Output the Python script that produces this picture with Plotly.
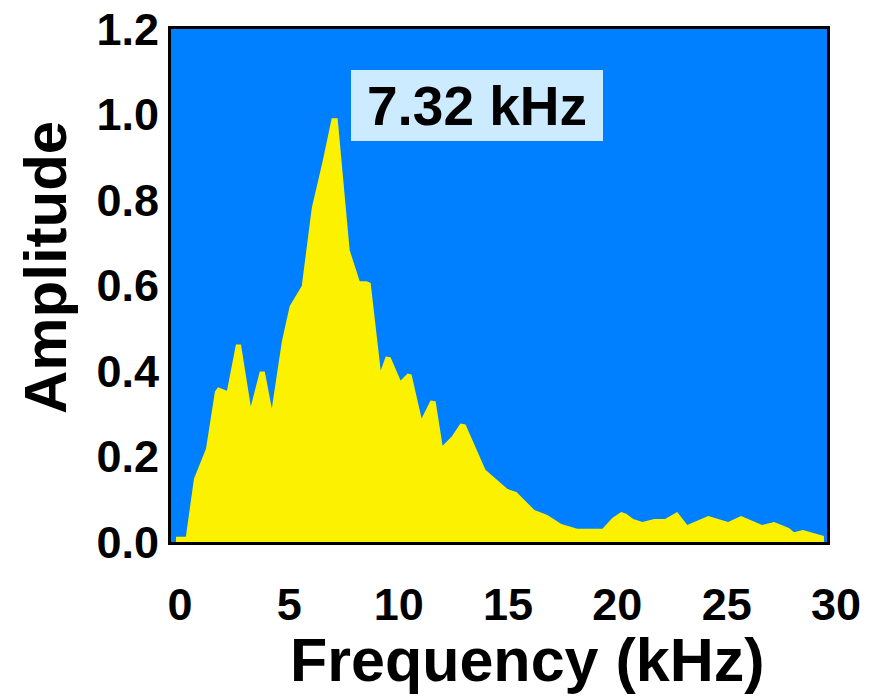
import plotly.graph_objects as go

freq_khz = [0.23, 0.68, 1.05, 1.60, 2.01, 2.15, 2.56, 2.97, 3.20, 3.65, 4.06, 4.29, 4.61, 5.07,
            5.43, 5.98, 6.44, 6.94, 7.35, 7.62, 8.17, 8.63, 8.95, 9.13, 9.59, 9.82, 10.04, 10.50,
            10.82, 11.00, 11.46, 11.87, 12.10, 12.42, 12.83, 13.24, 13.47, 14.38, 15.39, 15.80,
            16.62, 17.21, 17.85, 18.58, 19.73, 20.18, 20.59, 20.82, 21.14, 21.55, 22.10, 22.60,
            23.15, 23.61, 24.57, 25.48, 26.07, 27.03, 27.58, 28.26, 28.49, 28.90, 29.86]
amplitude = [0.012, 0.012, 0.148, 0.218, 0.352, 0.362, 0.354, 0.462, 0.462, 0.317, 0.399, 0.399,
             0.312, 0.469, 0.552, 0.599, 0.782, 0.892, 0.991, 0.991, 0.683, 0.610, 0.610, 0.606,
             0.401, 0.434, 0.432, 0.378, 0.394, 0.392, 0.289, 0.331, 0.329, 0.225, 0.246, 0.277,
             0.275, 0.169, 0.124, 0.117, 0.075, 0.063, 0.042, 0.031, 0.031, 0.056, 0.070, 0.066,
             0.054, 0.047, 0.054, 0.054, 0.070, 0.040, 0.061, 0.047, 0.061, 0.040, 0.047, 0.033,
             0.023, 0.028, 0.014]
x_ticks = [0, 5, 10, 15, 20, 25, 30]
y_ticks = [0.0, 0.2, 0.4, 0.6, 0.8, 1.0, 1.2]
y_ticklabels = ["0.0", "0.2", "0.4", "0.6", "0.8", "1.0", "1.2"]
peak_label = "7.32 kHz"
x_title = "Frequency (kHz)"
y_title = "Amplitude"

FONT = "Liberation Sans, Arial, sans-serif"

fig = go.Figure()
fig.add_trace(go.Scatter(
    x=freq_khz, y=amplitude, mode="lines", fill="tozeroy",
    line=dict(color="#FCF200", width=0), fillcolor="#FCF200",
    hoverinfo="skip", showlegend=False,
))

fig.update_layout(
    width=882, height=697,
    margin=dict(l=171, r=55, t=29, b=155, autoexpand=False),
    paper_bgcolor="white", plot_bgcolor="#0080FF",
    font=dict(family=FONT, color="black"),
    showlegend=False,
    xaxis=dict(
        range=[0, 30], tickvals=x_ticks, ticktext=[str(v) for v in x_ticks],
        showgrid=False, zeroline=False, ticks="", ticklabelstandoff=21, ticklabelshift=9,
        tickfont=dict(family=FONT, size=45, color="black", weight="bold"),
        showline=True, linecolor="black", linewidth=3, mirror=True,
    ),
    yaxis=dict(
        range=[0, 1.2], tickvals=y_ticks, ticktext=y_ticklabels,
        showgrid=False, zeroline=False, ticks="", ticklabelstandoff=0,
        tickfont=dict(family=FONT, size=45, color="black", weight="bold"),
        showline=True, linecolor="black", linewidth=3, mirror=True,
    ),
    annotations=[
        dict(x=14.0, y=1.022, xref="x", yref="y", text=peak_label, showarrow=False,
             xanchor="center", yanchor="middle",
             font=dict(family=FONT, size=55, color="black", weight="bold"),
             bgcolor="#CCEBFF", width=248, height=67, borderpad=2, borderwidth=0),
        dict(x=0.543, y=-0.230, xref="paper", yref="paper", text=x_title, showarrow=False,
             xanchor="center", yanchor="middle",
             font=dict(family=FONT, size=61, color="black", weight="bold")),
        dict(x=-0.192, y=0.534, xref="paper", yref="paper", text=y_title, showarrow=False,
             textangle=-90, xanchor="center", yanchor="middle",
             font=dict(family=FONT, size=60, color="black", weight="bold")),
    ],
)

fig.write_html("out.html", config={"displayModeBar": False},
               post_script="document.body.style.margin='0px';")
